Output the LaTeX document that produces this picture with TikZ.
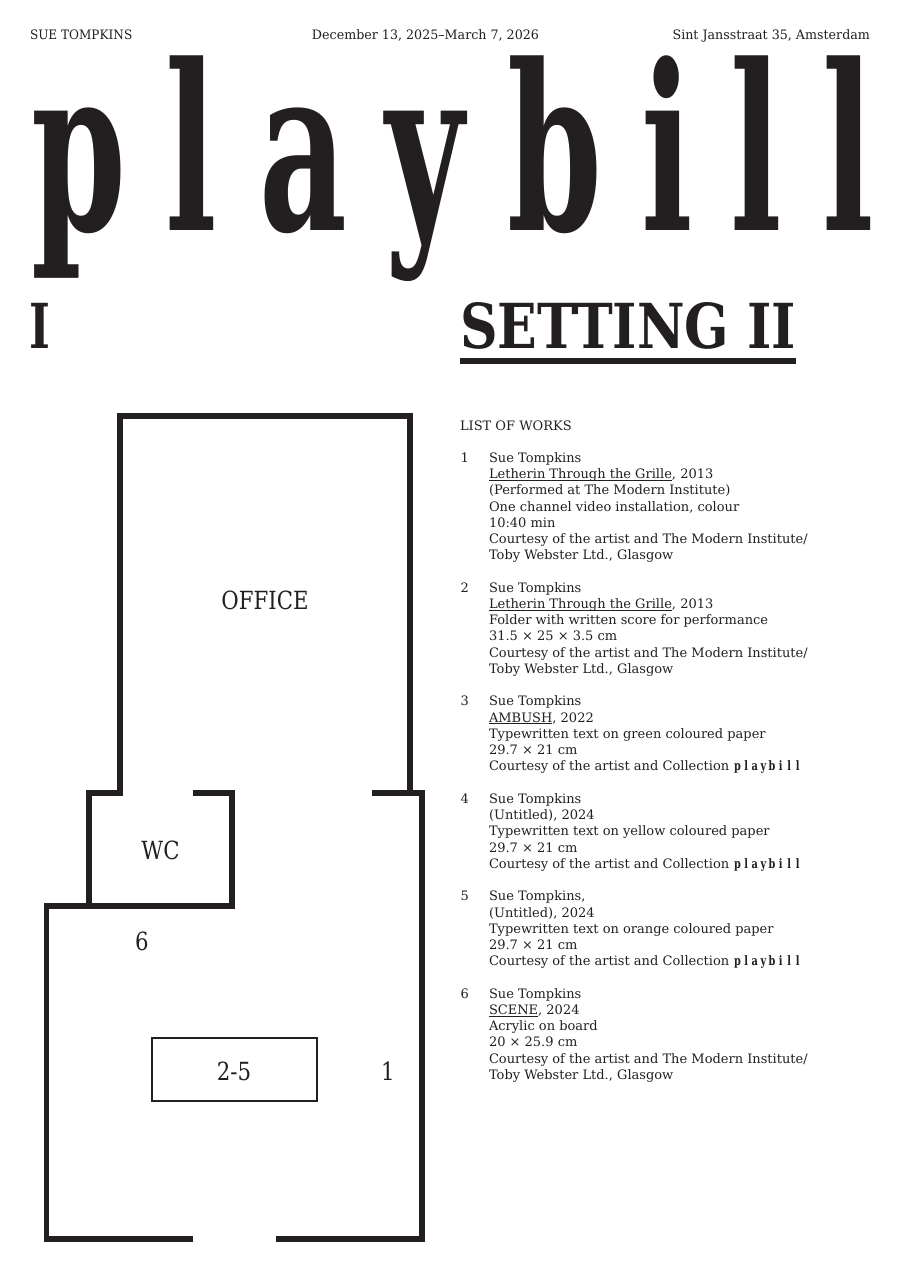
\documentclass[tikz,border=0pt]{standalone}
\usepackage{fontspec}
\setmainfont{DejaVu Serif}
\newfontfamily\titlefont{DejaVu Serif}[FakeStretch=0.59]
\newfontfamily\pbfont{DejaVu Serif}[FakeStretch=0.75]
\newfontfamily\headfont{DejaVu Serif}[FakeStretch=0.84]
\newfontfamily\romanfont{DejaVu Serif}[FakeStretch=0.72]
\newfontfamily\capsfont{DejaVu Serif}[FakeStretch=0.93]
\newfontfamily\toplinefont{DejaVu Serif}[FakeStretch=0.975]
\newfontfamily\labelfont{DejaVu Serif}[FakeStretch=0.85]
\definecolor{ink}{RGB}{35,31,32}
\newcommand{\ulx}[1]{\setbox0\hbox{#1}\rlap{\rule[-1.7pt]{\wd0}{0.6pt}}\box0}
\newcommand{\pbl}[1]{\makebox[8.6pt][c]{#1}}
\newcommand{\pbsmall}{{\pbfont\bfseries\fontsize{13}{16.24}\selectfont\pbl{p}\pbl{l}\pbl{a}\pbl{y}\pbl{b}\pbl{i}\pbl{l}\pbl{l}}}
\tikzset{
  every node/.style={inner sep=0pt, outer sep=0pt, text=ink},
  small/.style={font=\fontsize{13}{16.24}\selectfont},
  item/.style={small, anchor=base west, align=left},
  num/.style={small, anchor=base west},
  big/.style={anchor=base, font=\titlefont\bfseries\fontsize{230}{230}\selectfont},
  setting/.style={anchor=base west, font=\headfont\bfseries\fontsize{62}{62}\selectfont},
  plabel/.style={anchor=base, font=\labelfont\fontsize{25}{25}\selectfont},
  wall/.style={draw=ink, line width=5.5pt, line join=miter, line cap=butt},
}
\begin{document}
\begin{tikzpicture}[x=1pt,y=-1pt]
\useasboundingbox (0,0) rectangle (900,1273);
\fill[white] (0,0) rectangle (900,1273);
% header
\node[anchor=base west, font=\capsfont\fontsize{13}{16}\selectfont] (h1) at (30,39.3) {SUE TOMPKINS};
\node[anchor=base, font=\toplinefont\fontsize{13}{16}\selectfont] (h2) at (425.5,39.3) {December 13, 2025–March 7, 2026};
\node[anchor=base east, font=\toplinefont\fontsize{13}{16}\selectfont] (h3) at (870,39.3) {Sint Jansstraat 35, Amsterdam};
% title
\foreach \c/\x [count=\i] in {p/78.5, l/191.5, a/303, y/424.5, b/555, i/667.5, l/756.5, l/848}
  \node[big] (t\i) at (\x,231) {\c};
\node[anchor=base west, font=\romanfont\bfseries\fontsize{62}{62}\selectfont] (roman) at (29,348) {I};
\node[setting] (set) at (460,348) {SETTING II};
\draw[ink, line width=6pt] ([yshift=-13pt]set.base west) -- ([yshift=-13pt]set.base east);
% list (node base = baseline of the last line)
\node[num] (lw) at (460,430) {LIST OF WORKS};
\node[num] (n1) at (460.5,462.3) {1};
\node[item] (w1) at (489,559.74) {Sue Tompkins\\\ulx{Letherin Through the Grille}, 2013\\(Performed at The Modern Institute)\\One channel video installation, colour\\10:40 min\\Courtesy of the artist and The Modern Institute/\\Toby Webster Ltd., Glasgow};
\node[num] (n2) at (460.5,592.2) {2};
\node[item] (w2) at (489,673.4) {Sue Tompkins\\\ulx{Letherin Through the Grille}, 2013\\Folder with written score for performance\\31.5 × 25 × 3.5 cm\\Courtesy of the artist and The Modern Institute/\\Toby Webster Ltd., Glasgow};
\node[num] (n3) at (460.5,705.9) {3};
\node[item] (w3) at (489,770.86) {Sue Tompkins\\\ulx{AMBUSH}, 2022\\Typewritten text on green coloured paper\\29.7 × 21 cm\\Courtesy of the artist and Collection \pbsmall};
\node[num] (n4) at (460.5,803.3) {4};
\node[item] (w4) at (489,868.26) {Sue Tompkins\\(Untitled), 2024\\Typewritten text on yellow coloured paper\\29.7 × 21 cm\\Courtesy of the artist and Collection \pbsmall};
\node[num] (n5) at (460.5,900.8) {5};
\node[item] (w5) at (489,965.76) {Sue Tompkins,\\(Untitled), 2024\\Typewritten text on orange coloured paper\\29.7 × 21 cm\\Courtesy of the artist and Collection \pbsmall};
\node[num] (n6) at (460.5,998.2) {6};
\node[item] (w6) at (489,1079.4) {Sue Tompkins\\\ulx{SCENE}, 2024\\Acrylic on board\\20 × 25.9 cm\\Courtesy of the artist and The Modern Institute/\\Toby Webster Ltd., Glasgow};
% floor plan
\draw[wall] (193,1239) -- (46.5,1239) -- (46.5,906) -- (232,906) -- (232,793) -- (193,793);
\draw[wall] (89,906) -- (89,793) -- (120,793) -- (120,416) -- (410,416) -- (410,793);
\draw[wall] (372,793) -- (422,793) -- (422,1239) -- (276,1239);
\node[draw=ink, line width=2.7pt, minimum width=165pt, minimum height=63pt] (box25) at (234.5,1069.5) {};
\node[plabel] (office) at (265,609.3) {OFFICE};
\node[plabel] (wc) at (160.5,859.3) {WC};
\node[plabel] (l6) at (142,950) {6};
\node[plabel] (l25) at (234,1080.7) {2-5};
\node[plabel] (l1) at (388,1080.7) {1};
\end{tikzpicture}
\end{document}
